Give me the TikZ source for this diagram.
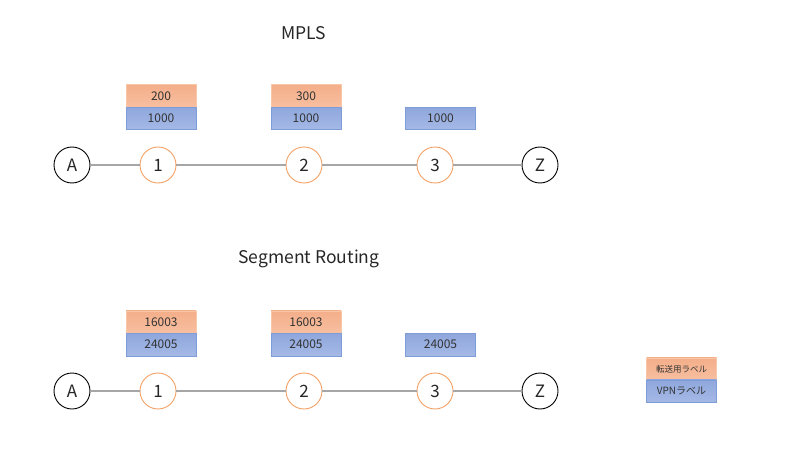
\documentclass[tikz,border=0pt]{standalone}
\usepackage{fontspec}
\setmainfont{Noto Sans CJK JP}
\begin{document}
\begin{tikzpicture}[x=1pt,y=-1pt,
  nd/.style={circle,draw=black,line width=0.9pt,fill=white,minimum size=36pt,inner sep=0pt,font=\fontsize{17}{17}\selectfont,text=black!85},
  rt/.style={nd,draw=orange1},
  fwd/.style={rectangle,draw=orangeb,line width=0.5pt,top color=orangeT,bottom color=orangeB,minimum width=70pt,minimum height=22.5pt,inner sep=0pt,font=\fontsize{12}{12}\selectfont,text=black!80},
  vpn/.style={fwd,draw=blueb,top color=blueT,bottom color=blueB},
  link/.style={draw=gray1,line width=1.1pt},
  ttl/.style={font=\fontsize{17.5}{17.5}\selectfont,text=black!85}]
\definecolor{orange1}{HTML}{F4A064}
\definecolor{orangeb}{HTML}{F8C7A8}
\definecolor{orangeT}{HTML}{F4AE8A}
\definecolor{orangeB}{HTML}{F7BFA0}
\definecolor{blueb}{HTML}{7E9CD8}
\definecolor{blueT}{HTML}{8FA7DD}
\definecolor{blueB}{HTML}{A5B9E6}
\definecolor{gray1}{HTML}{A6A6A6}
\useasboundingbox (0,0) rectangle (800,449);
% MPLS
\node[ttl] (t1) at (304,33) {MPLS};
\node[nd] (a1) at (72,165) {A};
\node[rt] (r11) at (158,165) {1};
\node[rt] (r12) at (304,165) {2};
\node[rt] (r13) at (435,165) {3};
\node[nd] (z1) at (540,165) {Z};
\draw[link] (a1) -- (r11);
\draw[link] (r11) -- (r12);
\draw[link] (r12) -- (r13);
\draw[link] (r13) -- (z1);
\node[fwd] (f11) at (161,96) {200};
\node[vpn] (v11) at (161,118.5) {1000};
\node[fwd] (f12) at (306,96) {300};
\node[vpn] (v12) at (306,118.5) {1000};
\node[vpn] (v13) at (440.5,118.5) {1000};
% Segment Routing
\node[ttl] (t2) at (309,259) {Segment Routing};
\node[nd] (a2) at (72,391) {A};
\node[rt] (r21) at (158,391) {1};
\node[rt] (r22) at (304,391) {2};
\node[rt] (r23) at (435,391) {3};
\node[nd] (z2) at (540,391) {Z};
\draw[link] (a2) -- (r21);
\draw[link] (r21) -- (r22);
\draw[link] (r22) -- (r23);
\draw[link] (r23) -- (z2);
\node[fwd] (f21) at (161,322) {16003};
\node[vpn] (v21) at (161,344.5) {24005};
\node[fwd] (f22) at (306,322) {16003};
\node[vpn] (v22) at (306,344.5) {24005};
\node[vpn] (v23) at (440.5,344.5) {24005};
% legend
\node[fwd,font=\fontsize{8.5}{8.5}\selectfont] (lf) at (681.5,369) {転送用ラベル};
\node[vpn,font=\fontsize{10}{10}\selectfont] (lv) at (681.5,391) {VPNラベル};
\end{tikzpicture}
\end{document}
